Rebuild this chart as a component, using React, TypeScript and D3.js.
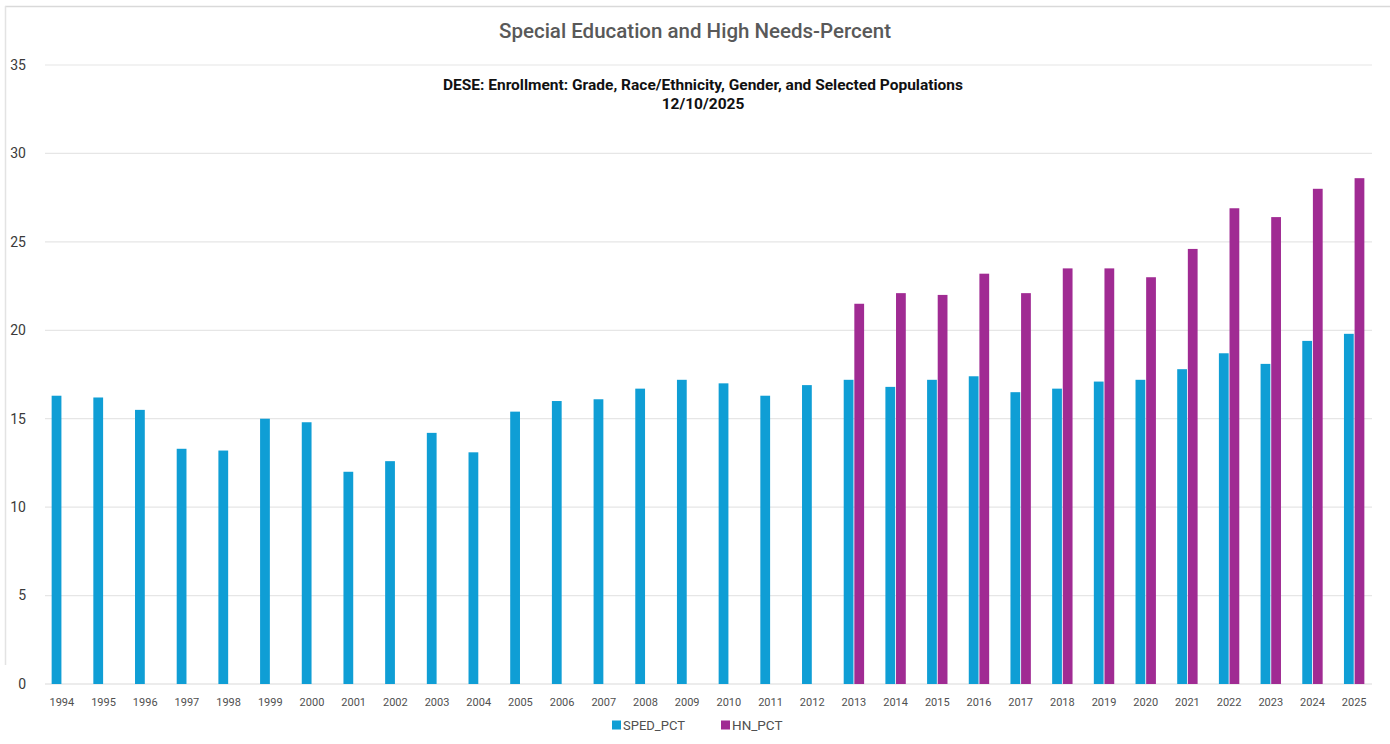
import React from "react";
import * as d3 from "d3";

const years: string[] = [
  "1994", "1995", "1996", "1997", "1998", "1999", "2000", "2001", "2002", "2003", "2004",
  "2005", "2006", "2007", "2008", "2009", "2010", "2011", "2012", "2013", "2014", "2015",
  "2016", "2017", "2018", "2019", "2020", "2021", "2022", "2023", "2024", "2025",
];

const spedPct: number[] = [
  16.3, 16.2, 15.5, 13.3, 13.2, 15.0, 14.8, 12.0, 12.6, 14.2, 13.1,
  15.4, 16.0, 16.1, 16.7, 17.2, 17.0, 16.3, 16.9, 17.2, 16.8, 17.2,
  17.4, 16.5, 16.7, 17.1, 17.2, 17.8, 18.7, 18.1, 19.4, 19.8,
];

// High-needs percentage is only reported from 2013 onward
const hnPct: (number | null)[] = [
  null, null, null, null, null, null, null, null, null, null, null,
  null, null, null, null, null, null, null, null, 21.5, 22.1, 22.0,
  23.2, 22.1, 23.5, 23.5, 23.0, 24.6, 26.9, 26.4, 28.0, 28.6,
];

const yTicks: number[] = [0, 5, 10, 15, 20, 25, 30, 35];

const seriesKeys = ["SPED_PCT", "HN_PCT"];
const seriesColors: Record<string, string> = {
  SPED_PCT: "#0F9ED5",
  HN_PCT: "#A02B93",
};

const title = "Special Education and High Needs-Percent";
const subtitle1 = "DESE: Enrollment: Grade, Race/Ethnicity, Gender, and Selected Populations";
const subtitle2 = "12/10/2025";

const W = 1390;
const H = 744;
const plotLeft = 45;
const plotRight = 1372;
const catLeft = 41;
const catRight = 1375;
const yTop = 65;
const yBottom = 684;

export default function App() {
  const x0 = d3.scaleBand<string>().domain(years).range([catLeft, catRight]).paddingInner(0.47).paddingOuter(0.235);
  const x1 = d3.scaleBand<string>().domain(seriesKeys).range([0, x0.bandwidth()]).padding(0.08);
  const y = d3.scaleLinear().domain([0, 35]).range([yBottom, yTop]);

  const rows = years.map((yr, i) => ({ yr, SPED_PCT: spedPct[i], HN_PCT: hnPct[i] }));

  const font = "Roboto, 'Noto Sans', sans-serif";

  return (
    <svg
      width={W}
      height={H}
      style={{ position: "fixed", left: 0, top: 0, background: "#ffffff" }}
      fontFamily={font}
    >
      <rect x={0} y={0} width={W} height={H} fill="#ffffff" />
      {/* chart frame */}
      <line x1={5} x2={W} y1={6.5} y2={6.5} stroke="#d9d9d9" strokeWidth={1.5} />
      <line x1={5.5} x2={5.5} y1={6} y2={665} stroke="#e3e3e3" strokeWidth={1.5} />

      {/* gridlines and y-axis labels */}
      {yTicks.map((t) => (
        <g key={t}>
          <line
            x1={plotLeft}
            x2={plotRight}
            y1={y(t)}
            y2={y(t)}
            stroke={t === 0 ? "#d9d9d9" : "#e6e6e6"}
            strokeWidth={1.2}
          />
          <text x={26} y={y(t)} dy="0.35em" textAnchor="end" fontSize={14} fill="#3a3a3a">
            {t}
          </text>
        </g>
      ))}

      {/* bars */}
      {rows.map((r) => (
        <g key={r.yr} transform={`translate(${x0(r.yr)},0)`}>
          {seriesKeys.map((k) => {
            const v = (r as any)[k] as number | null;
            if (v == null) return null;
            return (
              <rect
                key={k}
                x={x1(k)}
                y={y(v)}
                width={x1.bandwidth()}
                height={y(0) - y(v)}
                fill={seriesColors[k]}
              />
            );
          })}
        </g>
      ))}

      {/* x-axis labels */}
      {years.map((yr) => (
        <text
          key={yr}
          x={(x0(yr) as number) + x0.bandwidth() / 2}
          y={702}
          dy="0.35em"
          textAnchor="middle"
          fontSize={11}
          fill="#505050"
        >
          {yr}
        </text>
      ))}

      {/* titles */}
      <text x={695} y={31} dy="0.35em" textAnchor="middle" fontSize={20.5} fill="#595959" fontWeight={500}>
        {title}
      </text>
      <text x={703} y={85} dy="0.35em" textAnchor="middle" fontSize={15.5} fontWeight={700} fill="#111111">
        {subtitle1}
      </text>
      <text x={703} y={104} dy="0.35em" textAnchor="middle" fontSize={15.5} fontWeight={700} fill="#111111">
        {subtitle2}
      </text>

      {/* legend */}
      <g transform="translate(612,725)">
        <rect x={0} y={-4.5} width={9} height={9} fill={seriesColors.SPED_PCT} />
        <text x={11} y={0} dy="0.35em" fontSize={13} fill="#505050">SPED_PCT</text>
        <rect x={109} y={-4.5} width={9} height={9} fill={seriesColors.HN_PCT} />
        <text x={120} y={0} dy="0.35em" fontSize={13.5} fill="#505050">HN_PCT</text>
      </g>
    </svg>
  );
}
